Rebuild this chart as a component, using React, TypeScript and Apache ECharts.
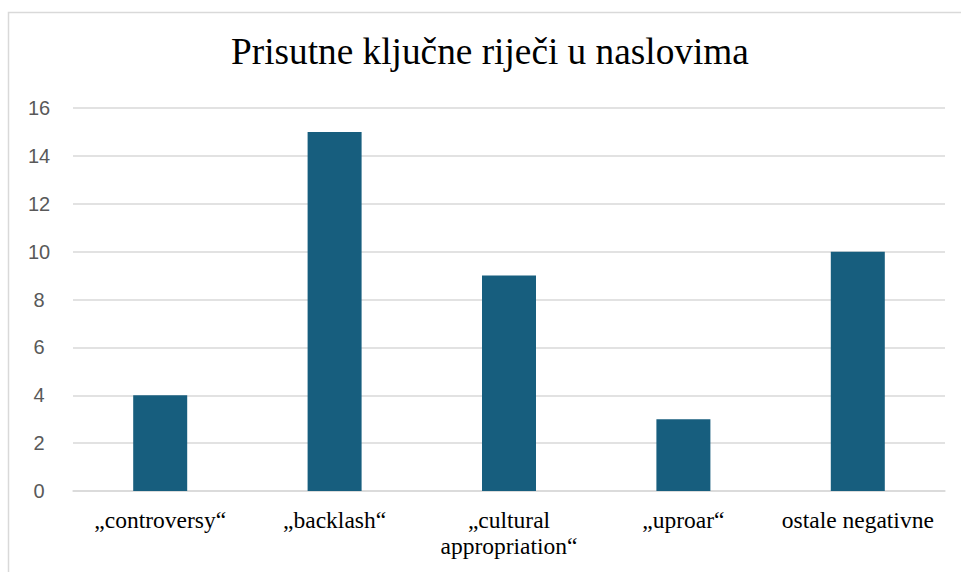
import React, { useEffect, useRef } from "react";
import * as echarts from "echarts";

const categories = ["„controversy“", "„backlash“", "„cultural\nappropriation“", "„uproar“", "ostale negativne"];
const values = [4, 15, 9, 3, 10];
const titleText = "Prisutne ključne riječi u naslovima";

const SERIF = "Liberation Serif";

export default function App() {
  const ref = useRef<HTMLDivElement>(null);
  useEffect(() => {
    if (!ref.current) return;
    const chart = echarts.init(ref.current, null, { renderer: "svg" });
    chart.setOption({
      animation: false,
      backgroundColor: "#ffffff",
      title: {
        text: titleText,
        left: 226,
        top: 28,
        textStyle: { fontFamily: SERIF, fontSize: 37.3, fontWeight: "normal", color: "#000000" },
      },
      graphic: [
        {
          type: "rect",
          shape: { x: 8.5, y: 12.5, width: 1000, height: 700 },
          style: { fill: "none", stroke: "#d9d9d9", lineWidth: 1.5 },
          silent: true,
        },
      ],
      grid: { left: 73, right: 16, top: 108, bottom: 81 },
      xAxis: {
        type: "category",
        data: categories,
        axisTick: { show: false },
        axisLine: { lineStyle: { color: "#d9d9d9", width: 1.5 } },
        axisLabel: {
          interval: 0,
          margin: 16,
          color: "#000000",
          fontFamily: SERIF,
          fontSize: 23.5,
          lineHeight: 26,
        },
      },
      yAxis: {
        type: "value",
        min: 0,
        max: 16,
        interval: 2,
        axisLine: { show: false },
        axisTick: { show: false },
        splitLine: { lineStyle: { color: "#d9d9d9", width: 1.5 } },
        axisLabel: { color: "#595959", fontFamily: "Liberation Sans", fontSize: 20, margin: 34, align: "center" },
      },
      series: [
        {
          type: "bar",
          data: values,
          barWidth: 54,
          itemStyle: { color: "#175e7e" },
        },
      ],
    });
    return () => chart.dispose();
  }, []);
  return <div ref={ref} style={{ position: "absolute", left: 0, top: 0, width: 961, height: 572 }} />;
}
